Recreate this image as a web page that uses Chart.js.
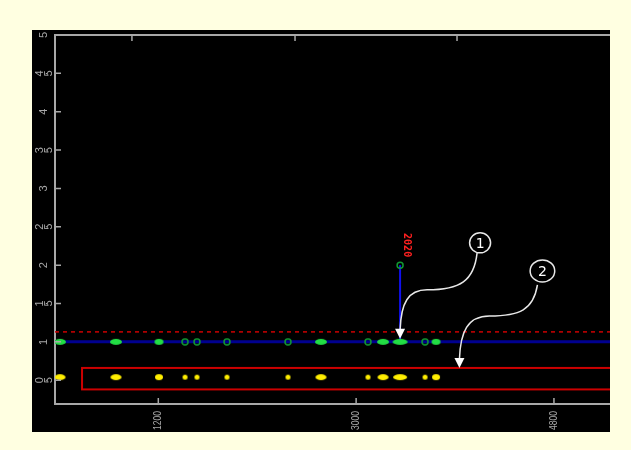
<!DOCTYPE html>
<html>
<head>
<meta charset="utf-8">
<script src="https://cdn.jsdelivr.net/npm/chart.js@4"></script>
<style>
  body { margin: 0; background: #ffffe1; }
  #wrap { position: absolute; left: 32px; top: 30px; width: 578px; height: 402px; background: #000; overflow: hidden; }
  canvas { display: block; }
</style>
</head>
<body>
<div id="wrap"><canvas id="peakChart" width="578" height="402"></canvas></div>
<script>
// axis ranges and tick labels
const xRange = [260, 5310];
const yRange = [0.19, 5];
const xTicks = [1200, 3000, 4800];
const topTicks = [960, 2444, 3918];
const yTicks = [5, 4.5, 4, 3.5, 3, 2.5, 2, 1.5, 1, 0.5];

// peaks along the track
const peakX = [305, 815, 1206, 1443, 1552, 1825, 2380, 2680, 3108, 3245, 3400, 3627, 3727];
const peakMatched = [1, 1, 1, 0, 0, 0, 0, 1, 0, 1, 1, 0, 1];
const peakIntensity = [3, 3, 2, 1, 1, 1, 1, 3, 1, 3, 4, 1, 2];

const baseline = 1;
const threshold = 1.13;
const lowerTrack = 0.54;
const boxX = [506, 5400];
const boxY = [0.38, 0.66];

// selected peak
const selectedX = 3400;
const selectedY = 2;
const selectedLabel = '2020';

// callouts: [label, target x, target y]
const callouts = [['1', 3400, 1], ['2', 3940, 0.66]];

const gray = '#a8a8a8';

function dot(w, h, color, filled) {
  const c = document.createElement('canvas');
  c.width = w + 2; c.height = h + 2;
  const g = c.getContext('2d');
  g.beginPath();
  g.ellipse(c.width / 2, c.height / 2, w / 2, h / 2, 0, 0, Math.PI * 2);
  if (filled) { g.fillStyle = color; g.fill(); }
  else { g.strokeStyle = color; g.lineWidth = 1.5; g.stroke(); }
  return c;
}

const widths = [0, 5, 9, 12, 15];
const greenStyles = peakX.map((x, i) => peakMatched[i]
  ? dot(widths[peakIntensity[i]], 6, '#22dd44', true)
  : dot(6, 6, '#119933', false));
const yellowStyles = peakX.map((x, i) => peakIntensity[i] === 1
  ? dot(5, 5, '#ffee00', true)
  : dot(widths[peakIntensity[i]] - 1, 6, '#ffee00', true));

const decor = {
  id: 'decor',
  beforeDatasetsDraw(chart) {
    const { ctx, scales: { x, y } } = chart;
    ctx.save();
    ctx.strokeStyle = '#cc0000';
    ctx.lineWidth = 2;
    const l = x.getPixelForValue(boxX[0]), r = x.getPixelForValue(boxX[1]);
    const t = y.getPixelForValue(boxY[1]), b = y.getPixelForValue(boxY[0]);
    ctx.strokeRect(l, t, r - l, b - t);
    ctx.restore();
  },
  afterDraw(chart) {
    const { ctx, chartArea: a, scales: { x, y } } = chart;
    ctx.save();
    ctx.strokeStyle = gray;
    ctx.lineWidth = 2;
    ctx.beginPath();
    ctx.moveTo(a.left - 1, a.top);
    ctx.lineTo(a.right, a.top);
    ctx.stroke();
    // inner ticks
    ctx.lineWidth = 1.5;
    ctx.beginPath();
    yTicks.forEach(v => {
      const py = y.getPixelForValue(v);
      ctx.moveTo(a.left, py); ctx.lineTo(a.left + 6, py);
    });
    xTicks.forEach(v => {
      const px = x.getPixelForValue(v);
      ctx.moveTo(px, a.bottom); ctx.lineTo(px, a.bottom - 6);
    });
    topTicks.forEach(v => {
      const px = x.getPixelForValue(v);
      ctx.moveTo(px, a.top); ctx.lineTo(px, a.top + 6);
    });
    ctx.stroke();

    ctx.fillStyle = gray;
    ctx.font = '10px "Liberation Sans"';

    // x labels, reading bottom to top
    ctx.textAlign = 'right';
    ctx.textBaseline = 'middle';
    xTicks.forEach(v => {
      ctx.save();
      ctx.translate(x.getPixelForValue(v), a.bottom + 7);
      ctx.rotate(-Math.PI / 2);
      ctx.scale(0.85, 1);
      ctx.fillText(String(v), 0, 0);
      ctx.restore();
    });

    // y labels, glyphs turned on their side
    ctx.font = '11px "Liberation Sans"';
    ctx.textAlign = 'center';
    yTicks.forEach(v => {
      const chars = String(v).split('');
      const adv = chars.map(ch => ch === '.' ? 2 : 7);
      const total = adv.reduce((s, w) => s + w, 0);
      let cx = 12 - total / 2;
      const py = y.getPixelForValue(v);
      chars.forEach((ch, i) => {
        ctx.save();
        ctx.translate(cx + adv[i] / 2, py);
        ctx.rotate(-Math.PI / 2);
        ctx.fillText(ch, 0, 0);
        ctx.restore();
        cx += adv[i];
      });
    });

    // selected peak label
    const sx = x.getPixelForValue(selectedX), sy = y.getPixelForValue(selectedY);
    ctx.save();
    ctx.translate(sx + 7, sy - 8);
    ctx.rotate(Math.PI / 2);
    ctx.fillStyle = '#ff2020';
    ctx.font = 'bold 10px "DejaVu Sans Mono"';
    ctx.textAlign = 'right';
    ctx.textBaseline = 'middle';
    ctx.fillText(selectedLabel, 0, 0);
    ctx.restore();

    // callouts
    callouts.forEach(([label, cxv, cyv], k) => {
      const tx = x.getPixelForValue(cxv);
      const ty = y.getPixelForValue(cyv) - (k === 0 ? 3 : 0);
      const p = (dx, dy) => [tx + dx, ty + dy];
      const w = k === 0 ? 0 : 3;
      ctx.strokeStyle = '#e8e8e8';
      ctx.lineWidth = 1.5;
      ctx.beginPath();
      ctx.moveTo(...p(77 + w / 3, -86 + w));
      ctx.bezierCurveTo(...p(74, -58), ...p(60, -49 - w), ...p(27 + w, -49 - w));
      ctx.bezierCurveTo(...p(8, -49 - w), ...p(1, -36), ...p(0, -9));
      ctx.stroke();
      ctx.fillStyle = '#ffffff';
      ctx.beginPath();
      ctx.moveTo(...p(-5, -10));
      ctx.lineTo(...p(5, -10));
      ctx.lineTo(...p(0, 0));
      ctx.closePath();
      ctx.fill();
      const [ox, oy] = p(80 + w, -96 - w / 3);
      ctx.beginPath();
      ctx.ellipse(ox, oy, 10.5 + w * 0.6, 10 + w / 3, 0, 0, Math.PI * 2);
      ctx.stroke();
      ctx.fillStyle = '#ffffff';
      ctx.font = '14px "DejaVu Sans"';
      ctx.textAlign = 'center';
      ctx.textBaseline = 'middle';
      ctx.fillText(label, ox, oy + 1);
    });
    ctx.restore();
  }
};

new Chart(document.getElementById('peakChart'), {
  type: 'scatter',
  data: {
    datasets: [{
      type: 'line',
      data: [{ x: xRange[0], y: threshold }, { x: xRange[1], y: threshold }],
      borderColor: '#cc0000',
      borderWidth: 1.5,
      borderDash: [4, 4],
      pointRadius: 0,
      order: 4,
    }, {
      type: 'line',
      data: [{ x: xRange[0], y: baseline }, { x: xRange[1], y: baseline }],
      borderColor: '#000090',
      borderWidth: 3,
      pointRadius: 0,
      order: 3,
    }, {
      type: 'line',
      data: [{ x: selectedX, y: baseline }, { x: selectedX, y: selectedY }],
      borderColor: '#1010ee',
      borderWidth: 2,
      pointRadius: [0, 3],
      pointBorderColor: '#119933',
      pointBorderWidth: 1.5,
      pointBackgroundColor: 'rgba(0,0,0,0)',
      order: 2,
    }, {
      data: peakX.map(x => ({ x, y: baseline })),
      pointStyle: greenStyles,
      order: 1,
    }, {
      data: peakX.map(x => ({ x, y: lowerTrack })),
      pointStyle: yellowStyles,
      order: 1,
    }],
  },
  options: {
    responsive: false,
    animation: false,
    devicePixelRatio: 1,
    layout: { autoPadding: false, padding: { top: 5, right: 0, left: 0, bottom: 0 } },
    plugins: { legend: { display: false }, tooltip: { enabled: false } },
    scales: {
      x: {
        type: 'linear',
        min: xRange[0],
        max: xRange[1],
        afterBuildTicks: s => { s.ticks = xTicks.map(v => ({ value: v })); },
        afterFit: s => { s.height = 28; },
        grid: { display: false },
        border: { color: gray, width: 2 },
        ticks: { display: false },
      },
      y: {
        min: yRange[0],
        max: yRange[1],
        afterBuildTicks: s => { s.ticks = yTicks.map(v => ({ value: v })); },
        afterFit: s => { s.width = 23; },
        grid: { display: false },
        border: { color: gray, width: 2 },
        ticks: { display: false },
      },
    },
  },
  plugins: [decor],
});
</script>
</body>
</html>
